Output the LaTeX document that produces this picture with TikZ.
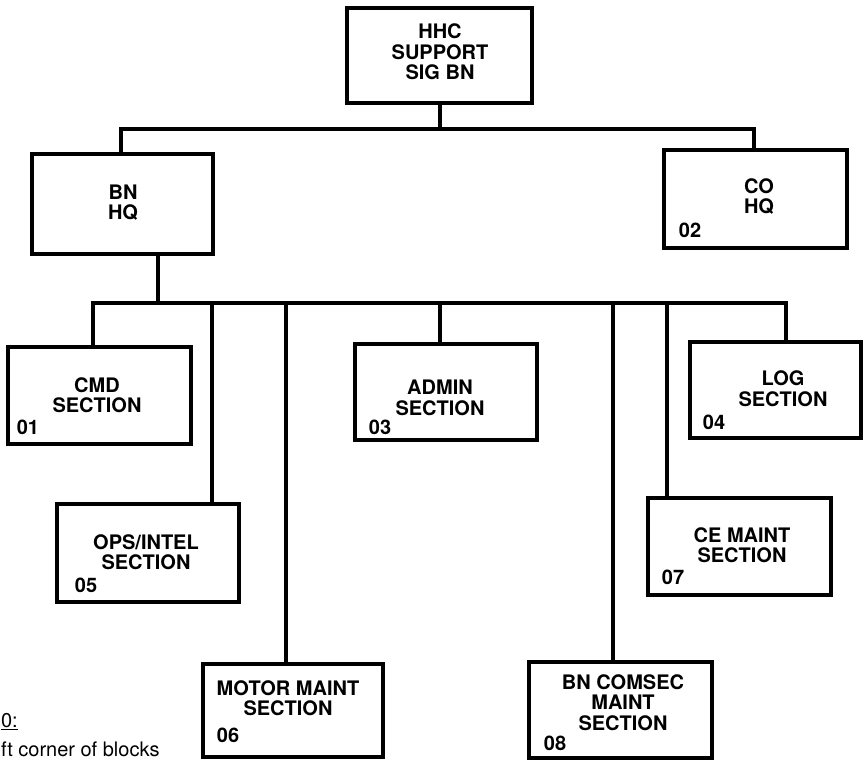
\documentclass[tikz,border=0pt]{standalone}
\usepackage{fontspec}
\setmainfont{TeX Gyre Heros}
\begin{document}
\begin{tikzpicture}[x=1pt,y=-1pt,
  box/.style={draw, line width=3.2pt, rectangle, inner sep=0pt},
  lbl/.style={font=\fontsize{20}{20.5}\selectfont\bfseries, align=center, inner sep=0pt},
  num/.style={font=\fontsize{20}{20}\selectfont\bfseries, inner sep=0pt},
  note/.style={font=\fontsize{20}{20}\selectfont, inner sep=0pt},
  link/.style={line width=3.2pt, line join=miter}]
\useasboundingbox (0,0) rectangle (863,761);

% boxes
\node[box, minimum width=185, minimum height=95] (hhc) at (439.5,55.5) {};
\node[box, minimum width=181, minimum height=100] (bnhq) at (122.5,204) {};
\node[box, minimum width=183, minimum height=98] (cohq) at (755.5,199) {};
\node[box, minimum width=183, minimum height=97] (cmd) at (99.5,395.5) {};
\node[box, minimum width=182, minimum height=96] (admin) at (446,392) {};
\node[box, minimum width=171, minimum height=96] (log) at (775.5,390) {};
\node[box, minimum width=182, minimum height=98] (ops) at (148,553) {};
\node[box, minimum width=183, minimum height=97] (ce) at (739.5,546.5) {};
\node[box, minimum width=180, minimum height=93] (motor) at (293,710.5) {};
\node[box, minimum width=183, minimum height=96] (comsec) at (620.5,710) {};

% box texts
\node[lbl] (hhcT) at (440,52) {HHC\\SUPPORT\\SIG BN};
\node[lbl] (bnT) at (123,202.5) {BN\\HQ};
\node[lbl] (coT) at (759,196.5) {CO\\HQ};
\node[lbl] (cmdT) at (97,395) {CMD\\SECTION};
\node[lbl] (adminT) at (440,398) {ADMIN\\SECTION};
\node[lbl] (logT) at (783,388.5) {LOG\\SECTION};
\node[lbl] (opsT) at (146,552) {OPS/INTEL\\SECTION};
\node[lbl] (ceT) at (742,545) {CE MAINT\\SECTION};
\node[lbl] (motorT) at (288,698) {MOTOR MAINT\\SECTION};
\node[lbl] (comsecT) at (623,702.5) {BN COMSEC\\MAINT\\SECTION};

% numbers
\node[num] (n01) at (28,427) {01};
\node[num] (n02) at (690,230) {02};
\node[num] (n03) at (380,427) {03};
\node[num] (n04) at (714,422) {04};
\node[num] (n05) at (86,585) {05};
\node[num] (n06) at (228,735) {06};
\node[num] (n07) at (673,577) {07};
\node[num] (n08) at (555,743) {08};

% top connectors
\coordinate (tl) at (121,129);
\coordinate (tr) at (754,129);
\coordinate (tm) at (440,129);
\draw[link] (tl |- bnhq.north) -- (tl) -- (tr) -- (tr |- cohq.north);
\draw[link] (tm |- hhc.south) -- (tm);

% lower bus
\coordinate (bl) at (93,303);
\coordinate (br) at (786,303);
\coordinate (bd) at (158,303);
\coordinate (d1) at (212,303);
\coordinate (d2) at (286,303);
\coordinate (d3) at (440,303);
\coordinate (d4) at (613,303);
\coordinate (d5) at (667,303);
\draw[link] (bl |- cmd.north) -- (bl) -- (br) -- (br |- log.north);
\draw[link] (bd |- bnhq.south) -- (bd);
\draw[link] (d1) -- (d1 |- ops.north);
\draw[link] (d2) -- (d2 |- motor.north);
\draw[link] (d3) -- (d3 |- admin.north);
\draw[link] (d4) -- (d4 |- comsec.north);
\draw[link] (d5) -- (d5 |- ce.north);

% note (cut off at the left edge)
\node[note, anchor=base east] (noteA) at (18,727) {\underline{0:}};
\node[note, anchor=base west] (noteB) at (1,756) {ft corner of blocks};
\end{tikzpicture}
\end{document}
